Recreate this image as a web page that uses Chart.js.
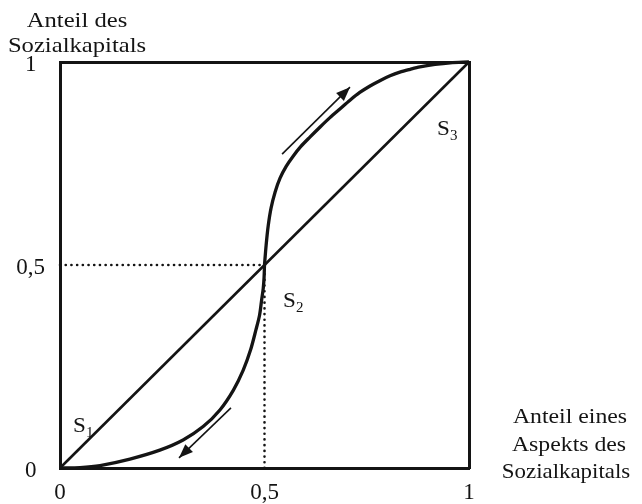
<!DOCTYPE html>
<html>
<head>
<meta charset="utf-8">
<script src="https://cdn.jsdelivr.net/npm/chart.js@4"></script>
<style>
    body { margin: 0; background: #fff; }
    #wrap { width: 642px; height: 504px; }
</style>
</head>
<body>
<div id="wrap"><canvas id="chart" width="642" height="504"></canvas></div>
<script>
// values (share of one aspect vs. share of social capital)
const tickValues = [0, 0.5, 1];
const tickLabels = ["0", "0,5", "1"];

const diagonalX = [0, 1];
const diagonalY = [0, 1];

const lowerCurveX = [0, 0.049, 0.098, 0.171, 0.244, 0.301, 0.35, 0.391, 0.424, 0.448, 0.466, 0.479, 0.488, 0.493, 0.497, 0.499, 0.5];
const lowerCurveY = [0, 0.001, 0.006, 0.022, 0.044, 0.069, 0.102, 0.143, 0.192, 0.241, 0.291, 0.34, 0.377, 0.414, 0.443, 0.47, 0.5];

const upperCurveX = [0.5, 0.504, 0.509, 0.516, 0.526, 0.538, 0.553, 0.57, 0.589, 0.611, 0.636, 0.66, 0.685, 0.709, 0.733, 0.758, 0.782, 0.807, 0.831, 0.856, 0.88, 0.917, 0.954, 1];
const upperCurveY = [0.5, 0.549, 0.596, 0.64, 0.68, 0.714, 0.743, 0.768, 0.792, 0.815, 0.84, 0.863, 0.885, 0.906, 0.925, 0.941, 0.954, 0.966, 0.975, 0.982, 0.988, 0.994, 0.998, 1];

const guideHX = [0, 0.5];
const guideHY = [0.5, 0.5];
const guideVX = [0.5, 0.5];
const guideVY = [0, 0.5];

// arrows: [tail, tip]
const arrowUpX = [0.543, 0.709];
const arrowUpY = [0.773, 0.938];
const arrowDownX = [0.418, 0.291];
const arrowDownY = [0.148, 0.025];

const pointLabels = ["1", "2", "3"];
const pointLabelX = [0.032, 0.545, 0.922];
const pointLabelY = [0.089, 0.397, 0.82];

const yTitle = ["Anteil des", "Sozialkapitals"];
const xTitle = ["Anteil eines", "Aspekts des", "Sozialkapitals"];

function toPoints(xs, ys) {
    return xs.map((x, i) => ({ x: x, y: ys[i] }));
}

const ink = "#141414";
const serif = "'Liberation Serif', 'Times New Roman', serif";

function lineSet(xs, ys, width, extra) {
    return Object.assign({
        data: toPoints(xs, ys),
        borderColor: ink,
        borderWidth: width,
        pointRadius: 0,
        fill: false,
        clip: false,
        showLine: true
    }, extra || {});
}

function drawText(ctx, text, x, y, size, scaleX, align) {
    ctx.save();
    ctx.font = size + "px " + serif;
    ctx.fillStyle = ink;
    ctx.textBaseline = "alphabetic";
    ctx.translate(x, y);
    ctx.scale(scaleX, 1);
    let w = ctx.measureText(text).width;
    let dx = align === "center" ? -w / 2 : 0;
    ctx.fillText(text, dx, 0);
    ctx.restore();
}

const extrasPlugin = {
    id: "extras",
    afterDatasetsDraw(chart) {
        const ctx = chart.ctx;
        const xs = chart.scales.x;
        const ys = chart.scales.y;
        // arrow heads
        [[arrowUpX, arrowUpY], [arrowDownX, arrowDownY]].forEach(a => {
            let x0 = xs.getPixelForValue(a[0][0]), y0 = ys.getPixelForValue(a[1][0]);
            let x1 = xs.getPixelForValue(a[0][1]), y1 = ys.getPixelForValue(a[1][1]);
            let ang = Math.atan2(y1 - y0, x1 - x0);
            ctx.save();
            ctx.translate(x1, y1);
            ctx.rotate(ang);
            ctx.beginPath();
            ctx.moveTo(0, 0);
            ctx.lineTo(-14, -5.5);
            ctx.lineTo(-14, 5.5);
            ctx.closePath();
            ctx.fillStyle = ink;
            ctx.fill();
            ctx.restore();
        });
        // S1, S2, S3
        pointLabels.forEach((sub, i) => {
            let px = xs.getPixelForValue(pointLabelX[i]);
            let py = ys.getPixelForValue(pointLabelY[i]);
            drawText(ctx, "S", px, py, 22, 1.05, "left");
            drawText(ctx, sub, px + 13, py + 5, 15, 1, "left");
        });
    },
    afterDraw(chart) {
        const ctx = chart.ctx;
        drawText(ctx, yTitle[0], 77, 27, 22, 1.12, "center");
        drawText(ctx, yTitle[1], 77, 52, 22, 1.12, "center");
        drawText(ctx, xTitle[0], 570, 423, 22, 1.08, "center");
        drawText(ctx, xTitle[1], 569, 451, 22, 1.08, "center");
        drawText(ctx, xTitle[2], 566, 478, 22, 1.04, "center");
    }
};

function tickText(v) {
    let i = tickValues.indexOf(v);
    return i >= 0 ? tickLabels[i] : "";
}

const tickFont = { family: serif, size: 23 };

new Chart(document.getElementById("chart").getContext("2d"), {
    type: "scatter",
    data: {
        datasets: [
            lineSet(guideHX, guideHY, 2.6, { borderDash: [0.1, 5.6], borderCapStyle: "round" }),
            lineSet(guideVX, guideVY, 2.6, { borderDash: [0.1, 5.6], borderCapStyle: "round" }),
            lineSet(diagonalX, diagonalY, 2.6),
            lineSet(lowerCurveX, lowerCurveY, 3.3, { tension: 0.3 }),
            lineSet(upperCurveX, upperCurveY, 3.3, { tension: 0.3 }),
            lineSet(arrowUpX, arrowUpY, 1.6),
            lineSet(arrowDownX, arrowDownY, 1.6)
        ]
    },
    options: {
        responsive: false,
        animation: false,
        layout: { padding: 0 },
        plugins: { legend: { display: false }, tooltip: { enabled: false } },
        scales: {
            x: {
                type: "linear", position: "bottom", min: 0, max: 1,
                grid: { display: false, drawTicks: false },
                border: { display: true, color: ink, width: 3 },
                afterBuildTicks: s => { s.ticks = tickValues.map(v => ({ value: v })); },
                ticks: { callback: tickText, font: tickFont, color: ink, padding: 11, maxRotation: 0 },
                afterFit: s => { s.height = 36; }
            },
            y: {
                type: "linear", position: "left", min: 0, max: 1,
                grid: { display: false, drawTicks: false },
                border: { display: true, color: ink, width: 3 },
                afterBuildTicks: s => { s.ticks = tickValues.map(v => ({ value: v })); },
                ticks: { callback: tickText, font: tickFont, color: ink, padding: 15, crossAlign: "center", labelOffset: 3 },
                afterFit: s => { s.width = 60; }
            },
            x2: {
                type: "linear", position: "top", min: 0, max: 1,
                grid: { display: false, drawTicks: false },
                border: { display: true, color: ink, width: 3 },
                ticks: { display: false },
                afterFit: s => { s.height = 62; }
            },
            y2: {
                type: "linear", position: "right", min: 0, max: 1,
                grid: { display: false, drawTicks: false },
                border: { display: true, color: ink, width: 3 },
                ticks: { display: false },
                afterFit: s => { s.width = 173; }
            }
        }
    },
    plugins: [extrasPlugin]
});
</script>
</body>
</html>
